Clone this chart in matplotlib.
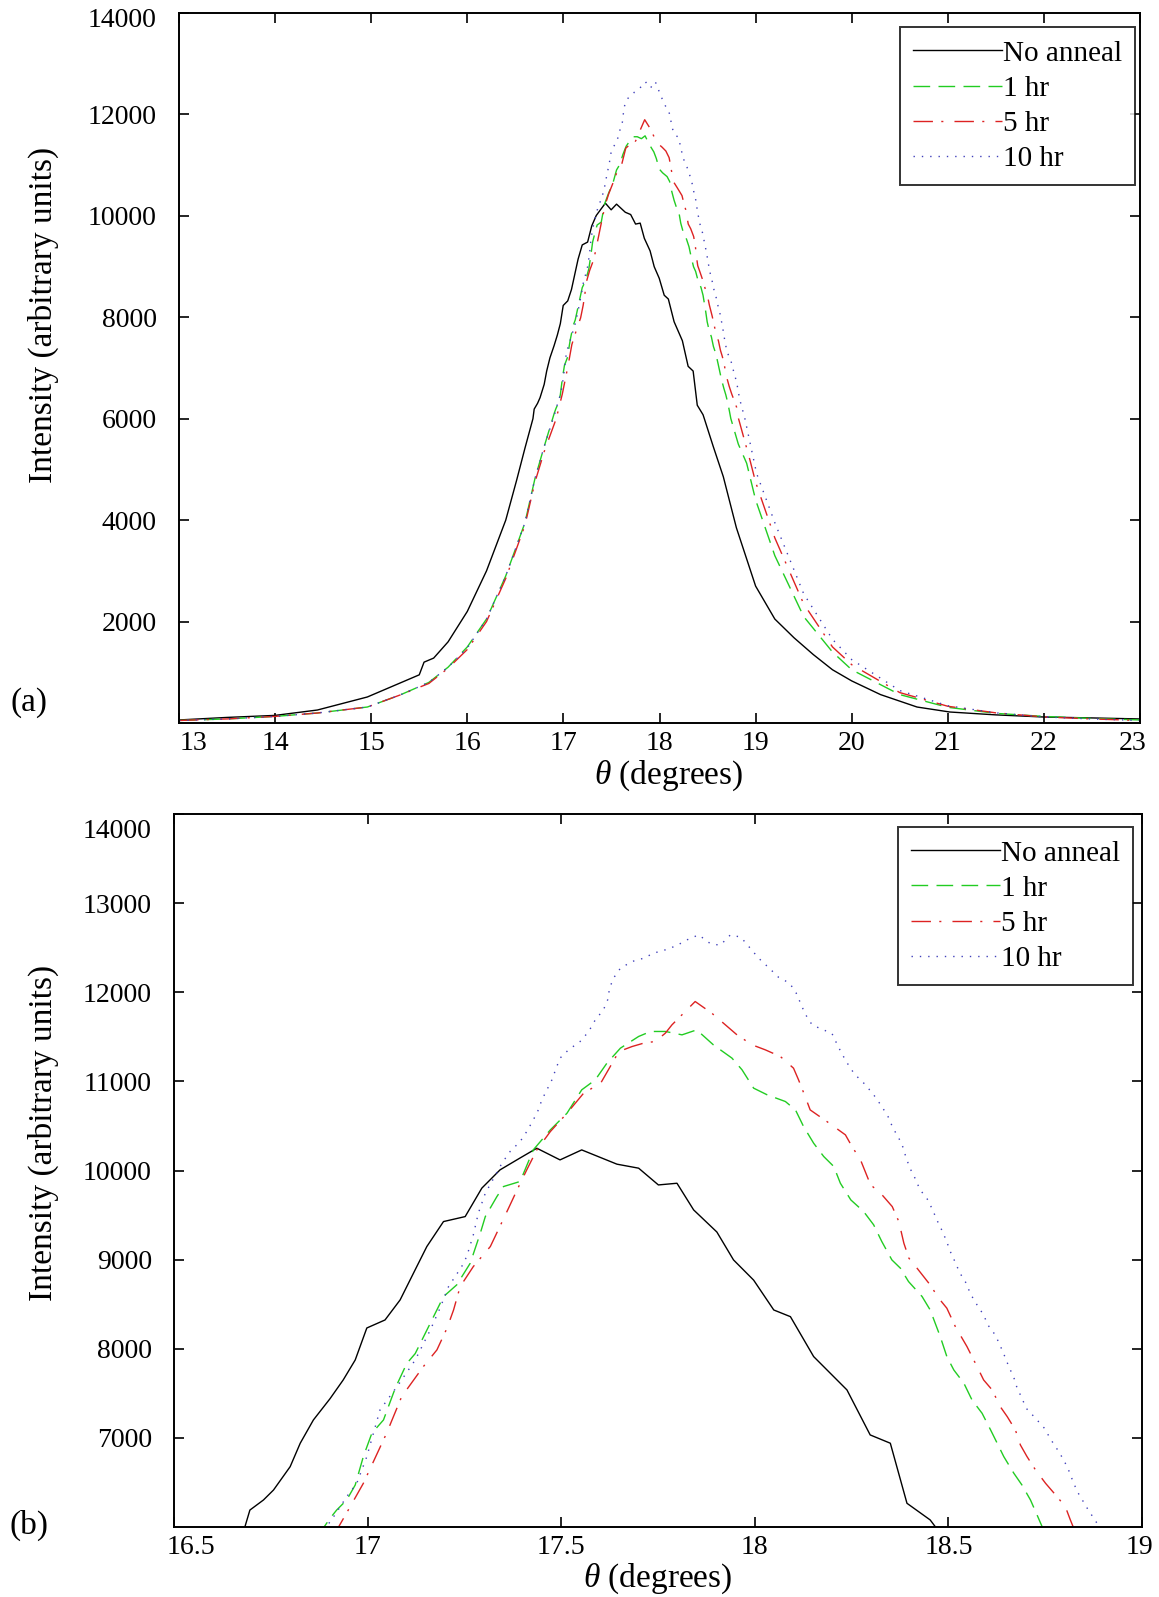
import matplotlib
matplotlib.use("Agg")
import matplotlib.pyplot as plt
from matplotlib.lines import Line2D
from matplotlib.transforms import ScaledTranslation

plt.rcParams['font.family'] = ['Liberation Serif', 'DejaVu Serif']
plt.rcParams['mathtext.fontset'] = 'custom'
plt.rcParams['mathtext.it'] = 'Liberation Serif:italic'
plt.rcParams['mathtext.rm'] = 'Liberation Serif'

# ---------------- data ----------------
series_labels = ["No anneal", "1 hr", "5 hr", "10 hr"]

x_none = [13.0, 13.5, 14.0, 14.44, 14.96, 15.3, 15.5, 15.55, 15.65, 15.8, 16.0, 16.2, 16.4, 16.514, 16.6,
          16.683, 16.696, 16.731, 16.757, 16.800, 16.826, 16.860, 16.903, 16.937, 16.968, 16.998, 17.045,
          17.084, 17.127, 17.153, 17.196, 17.252, 17.295, 17.342, 17.394, 17.437, 17.497, 17.553, 17.644,
          17.700, 17.751, 17.799, 17.842, 17.902, 17.945, 17.997, 18.049, 18.092, 18.152, 18.238, 18.298,
          18.350, 18.393, 18.453, 18.466, 18.56, 18.664, 18.8, 19.0, 19.2, 19.4, 19.6, 19.8, 20.0, 20.3,
          20.68, 21.02, 21.5, 22.0, 22.5, 23.0]
y_none = [60, 110, 150, 256, 513, 788, 950, 1200, 1280, 1600, 2200, 3000, 4000, 4792, 5420,
          6000, 6190, 6303, 6415, 6677, 6940, 7201, 7440, 7650, 7874, 8233, 8323,
          8548, 8922, 9147, 9427, 9483, 9802, 10007, 10141, 10250, 10119, 10231, 10071,
          10026, 9838, 9857, 9558, 9310, 8997, 8770, 8435, 8360, 7912, 7538, 7033,
          6940, 6266, 6079, 6004, 5448, 4857, 3850, 2700, 2050, 1680, 1350, 1050, 830, 560,
          315, 217, 160, 118, 100, 80]

x_1hr = [13.0, 13.5, 14.0, 14.44, 14.96, 15.3, 15.6, 15.8, 16.0, 16.2, 16.4, 16.6, 16.704, 16.8, 16.903,
         16.920, 16.946, 16.968, 16.989, 17.011, 17.041, 17.071, 17.101, 17.123, 17.196, 17.230, 17.265,
         17.291, 17.304, 17.334, 17.351, 17.394, 17.428, 17.472, 17.515, 17.553, 17.588, 17.618, 17.653,
         17.700, 17.731, 17.769, 17.812, 17.850, 17.893, 17.941, 17.967, 17.997, 18.032, 18.079, 18.105,
         18.126, 18.152, 18.178, 18.204, 18.221, 18.248, 18.281, 18.307, 18.328, 18.354, 18.376, 18.397,
         18.432, 18.453, 18.479, 18.496, 18.514, 18.540, 18.561, 18.587, 18.609, 18.626, 18.643, 18.669,
         18.690, 18.712, 18.729, 18.742, 18.82, 18.907, 19.0, 19.2, 19.5, 19.8, 20.0, 20.5, 21.0, 21.5,
         22.0, 22.5, 23.0]
y_1hr = [50, 80, 130, 197, 315, 552, 800, 1100, 1500, 2050, 2900, 3950, 4820, 5450, 6097,
         6190, 6303, 6471, 6790, 7052, 7201, 7553, 7834, 7946, 8585, 8716, 8959,
         9296, 9483, 9708, 9820, 9877, 10232, 10456, 10643, 10905, 11017, 11204, 11373,
         11504, 11560, 11560, 11522, 11578, 11410, 11261, 11130, 10924, 10849, 10774, 10680,
         10493, 10306, 10157, 10045, 9857, 9670, 9540, 9390, 9203, 8997, 8904, 8754,
         8586, 8435, 8136, 7912, 7762, 7613, 7425, 7276, 7089, 6940, 6790, 6603,
         6471, 6303, 6135, 6004, 5500, 5121, 4400, 3300, 2100, 1400, 1050, 560, 310, 190,
         130, 90, 60]

x_5hr = [13.0, 13.5, 14.0, 14.44, 14.96, 15.3, 15.6, 15.8, 16.0, 16.2, 16.4, 16.6, 16.704, 16.8, 16.925,
         16.955, 16.989, 17.049, 17.088, 17.144, 17.179, 17.205, 17.222, 17.239, 17.273, 17.317, 17.364,
         17.386, 17.411, 17.437, 17.472, 17.515, 17.558, 17.602, 17.649, 17.683, 17.713, 17.743, 17.769,
         17.786, 17.816, 17.846, 17.889, 17.919, 17.954, 17.993, 18.027, 18.066, 18.100, 18.113, 18.130,
         18.143, 18.186, 18.234, 18.251, 18.273, 18.299, 18.325, 18.355, 18.372, 18.385, 18.398, 18.419,
         18.453, 18.475, 18.496, 18.518, 18.548, 18.574, 18.591, 18.613, 18.634, 18.652, 18.673, 18.686,
         18.703, 18.725, 18.751, 18.777, 18.802, 18.815, 18.822, 18.941, 19.0, 19.2, 19.5, 19.8, 20.0,
         20.5, 21.0, 21.5, 22.0, 22.5, 23.0]
y_5hr = [50, 80, 130, 197, 315, 552, 780, 1080, 1450, 2000, 2850, 3900, 4750, 5350, 6000,
         6228, 6490, 7052, 7463, 7800, 7987, 8230, 8435, 8697, 8922, 9147, 9577,
         9782, 10007, 10231, 10437, 10643, 10868, 10980, 11335, 11391, 11429, 11448, 11541,
         11634, 11765, 11896, 11765, 11653, 11522, 11410, 11354, 11279, 11148, 11017, 10830,
         10680, 10550, 10400, 10269, 10119, 9839, 9745, 9595, 9427, 9184, 9016, 8904,
         8716, 8567, 8455, 8248, 8024, 7800, 7650, 7538, 7350, 7238, 7089, 6920,
         6790, 6640, 6490, 6359, 6228, 6079, 6004, 5186, 4750, 3650, 2350, 1500, 1150,
         600, 330, 200, 120, 80, 50]

x_10hr = [13.0, 13.5, 14.0, 14.44, 14.96, 15.3, 15.6, 15.8, 16.0, 16.2, 16.4, 16.6, 16.704, 16.8, 16.91,
          16.946, 16.972, 16.998, 17.015, 17.032, 17.08, 17.123, 17.162, 17.187, 17.209, 17.226, 17.243,
          17.256, 17.273, 17.286, 17.304, 17.321, 17.347, 17.368, 17.394, 17.411, 17.428, 17.441, 17.450,
          17.463, 17.476, 17.487, 17.497, 17.519, 17.549, 17.571, 17.588, 17.609, 17.620, 17.625, 17.635,
          17.653, 17.683, 17.713, 17.739, 17.769, 17.797, 17.825, 17.855, 17.886, 17.911, 17.937, 17.964,
          17.988, 18.010, 18.040, 18.061, 18.090, 18.107, 18.119, 18.130, 18.148, 18.173, 18.199, 18.212,
          18.225, 18.240, 18.257, 18.286, 18.309, 18.327, 18.344, 18.357, 18.372, 18.383, 18.391, 18.402,
          18.415, 18.426, 18.447, 18.460, 18.471, 18.484, 18.495, 18.505, 18.518, 18.529, 18.546, 18.557,
          18.574, 18.591, 18.602, 18.621, 18.633, 18.645, 18.656, 18.669, 18.677, 18.690, 18.701, 18.725,
          18.748, 18.764, 18.781, 18.798, 18.811, 18.822, 18.833, 18.86, 18.884, 19.01, 19.2, 19.5, 19.8,
          20.0, 20.5, 21.0, 21.5, 22.0, 22.5, 23.0]
y_10hr = [50, 80, 130, 197, 315, 552, 800, 1100, 1480, 2050, 2900, 3950, 4820, 5450, 6100,
          6340, 6490, 6790, 7052, 7313, 7600, 7874, 8211, 8455, 8697, 8810, 8922,
          9035, 9277, 9521, 9745, 9877, 10082, 10213, 10325, 10437, 10568, 10680, 10792,
          10905, 11017, 11148, 11261, 11354, 11448, 11559, 11690, 11802, 11915, 12046, 12158,
          12270, 12345, 12382, 12439, 12476, 12521, 12588, 12644, 12543, 12528, 12644, 12618,
          12494, 12382, 12259, 12169, 12102, 11990, 11870, 11757, 11634, 11585, 11540, 11421,
          11309, 11197, 11084, 10961, 10837, 10725, 10606, 10475, 10363, 10258, 10138, 10015,
          9903, 9790, 9670, 9550, 9438, 9322, 9210, 9090, 8967, 8855, 8735, 8615,
          8492, 8379, 8267, 8155, 8043, 7920, 7800, 7677, 7565, 7444, 7332, 7220,
          7108, 6985, 6872, 6752, 6632, 6509, 6397, 6200, 6041, 4923, 3950, 2550, 1650,
          1250, 640, 340, 200, 120, 80, 50]

top_xticks = [13, 14, 15, 16, 17, 18, 19, 20, 21, 22, 23]
top_yticks = [2000, 4000, 6000, 8000, 10000, 12000, 14000]
bot_xticks = [16.5, 17, 17.5, 18, 18.5, 19]
bot_xticklabels = ["16.5", "17", "17.5", "18", "18.5", "19"]
bot_yticks = [7000, 8000, 9000, 10000, 11000, 12000, 13000, 14000]

# ---------------- styles ----------------
colors = ["black", "#22cc22", "#dd2222", "#4040bb"]
dash_styles = ["-", (0, (12, 6)), (0, (14, 6, 1.5, 8)), (0, (1, 5))]
lw = 1.0
FS_TICK = 20
FS_LEG = 21
FS_LAB = 24

fig = plt.figure(figsize=(11.59, 15.97), dpi=100)
W, H = 1159, 1597


def ax_rect(l, t, r, b):
    return [l / W, 1 - b / H, (r - l) / W, (b - t) / H]


ax1 = fig.add_axes(ax_rect(179, 13, 1140, 723))
ax2 = fig.add_axes(ax_rect(174, 814, 1142, 1527))

data = [(x_none, y_none), (x_1hr, y_1hr), (x_5hr, y_5hr), (x_10hr, y_10hr)]

for ax in (ax1, ax2):
    for (xs, ys), c, ls, lab in zip(data, colors, dash_styles, series_labels):
        ax.plot(xs, ys, color=c, linestyle=ls, linewidth=lw, label=lab)
    for s in ax.spines.values():
        s.set_linewidth(1.4)
    ax.tick_params(direction='in', length=7, width=1.2, top=True, right=True,
                   labelsize=FS_TICK)
    ax.tick_params(axis='x', pad=6)
    ax.tick_params(axis='y', pad=16)

ax1.set_xlim(13, 23)
ax1.set_ylim(0, 14000)
ax1.set_xticks(top_xticks)
ax1.set_yticks(top_yticks)

ax2.set_xlim(16.5, 19)
ax2.set_ylim(6000, 14000)
ax2.set_xticks(bot_xticks)
ax2.set_xticklabels(bot_xticklabels)
ax2.set_yticks(bot_yticks)


def shift(label, dx, dy):
    label.set_transform(label.get_transform() + ScaledTranslation(dx / 100, -dy / 100, fig.dpi_scale_trans))


# edge tick labels pulled inward as in the reference
xt1 = ax1.xaxis.get_major_ticks()
shift(xt1[0].label1, 14, 0)
shift(xt1[-1].label1, -7, 0)
yt1 = ax1.yaxis.get_major_ticks()
shift(yt1[-1].label1, 0, 5)
xt2 = ax2.xaxis.get_major_ticks()
shift(xt2[0].label1, 17, 0)
shift(xt2[-1].label1, -3, 0)
yt2 = ax2.yaxis.get_major_ticks()
shift(yt2[-1].label1, 0, 14)

for ax, anchor in ((ax1, (1135 / W, 1 - 27 / H)), (ax2, (1133 / W, 1 - 827 / H))):
    handles = [Line2D([], [], color=c, linestyle=ls, linewidth=lw) for c, ls in zip(colors, dash_styles)]
    leg = ax.legend(handles, series_labels, loc='upper right', bbox_to_anchor=anchor,
                    bbox_transform=fig.transFigure, fontsize=FS_LEG, frameon=True, fancybox=False,
                    handlelength=3.05, handletextpad=0.03, labelspacing=0.3, borderpad=0.45,
                    borderaxespad=0)
    leg.get_frame().set_edgecolor('black')
    leg.get_frame().set_linewidth(1.4)

# axis labels
fig.text(43 / W, 1 - 315 / H, "Intensity (arbitrary units)", rotation=90, ha='center', va='center', fontsize=FS_LAB)
fig.text(43 / W, 1 - 1133 / H, "Intensity (arbitrary units)", rotation=90, ha='center', va='center', fontsize=FS_LAB)
fig.text(669 / W, 1 - 776 / H, r"$\mathit{\theta}$ (degrees)", ha='center', va='center', fontsize=FS_LAB)
fig.text(658 / W, 1 - 1579 / H, r"$\mathit{\theta}$ (degrees)", ha='center', va='center', fontsize=FS_LAB)
fig.text(29 / W, 1 - 703 / H, "(a)", ha='center', va='center', fontsize=FS_LAB)
fig.text(29 / W, 1 - 1525 / H, "(b)", ha='center', va='center', fontsize=FS_LAB)

fig.savefig("out.png", dpi=100)
